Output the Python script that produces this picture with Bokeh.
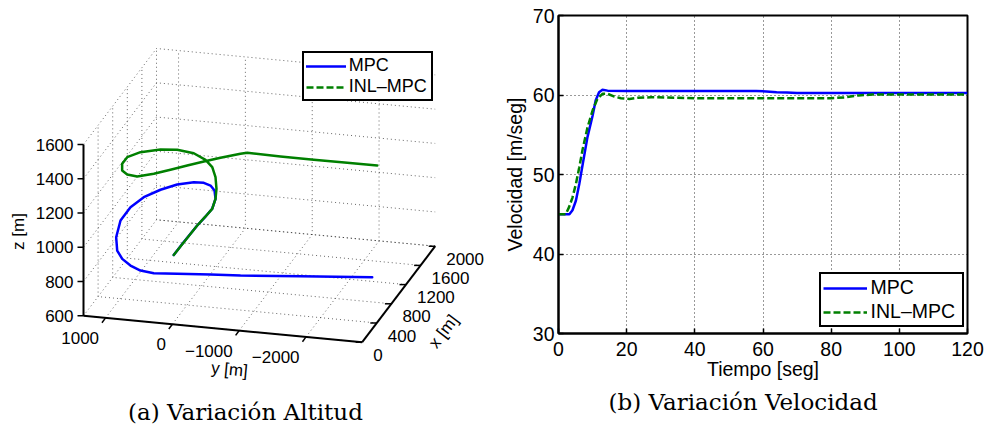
import numpy as np
from bokeh.plotting import figure
from bokeh.models import Range1d, Legend, LegendItem, Title, FixedTicker
from bokeh.layouts import row
from bokeh.embed import file_html
from bokeh.resources import INLINE
from bokeh.core.properties import value

# ---------------- data: (a) 3-D trajectories [m] ----------------
mpc_x = [0, 171, 433, 572, 686, 836, 962, 1034, 1075, 1085, 1043, 960, 851, 716, 538,
         322, 165, 96, 65, 52, 75, 139, 205, 246, 349, 465]
mpc_y = [-20, -68, -135, -183, -221, -189, -105, -6, 117, 272, 498, 702, 893, 1018, 1070,
         1017, 916, 803, 663, 506, 319, 4, -458, -885, -1727, -2736]
mpc_z = [1005, 1030, 1060, 1075, 1090, 1105, 1115, 1120, 1120, 1115, 1105, 1090, 1070, 1045, 1015,
         980, 950, 925, 900, 880, 865, 855, 850, 848, 846, 845]

inl_x = [0, 167, 400, 524, 618, 737, 849, 989, 1094, 1142, 1165, 1119, 1026, 871, 683,
         495, 314, 197, 126, 159, 218, 282, 340, 400, 468, 472, 462, 459, 462, 465]
inl_y = [-20, -80, -153, -210, -258, -243, -196, -105, 1, 128, 316, 539, 738, 953, 1049,
         1022, 923, 784, 595, 365, 148, -68, -285, -502, -763, -862, -1365, -1865, -2363, -2811]
inl_z = [1005, 1035, 1070, 1090, 1110, 1135, 1160, 1185, 1210, 1235, 1260, 1285, 1305, 1325, 1345,
         1360, 1375, 1390, 1405, 1420, 1435, 1450, 1465, 1478, 1492, 1500, 1500, 1500, 1500, 1500]

x_lim = [0, 2000]
y_lim = [-2840, 1330]
z_lim = [600, 1600]
x_ticks = [0, 400, 800, 1200, 1600, 2000]
y_ticks = [1000, 0, -1000, -2000]
z_ticks = [600, 800, 1000, 1200, 1400, 1600]

# ---------------- data: (b) velocity ----------------
t_mpc = [0, 3.2, 4.1, 5.1, 6.1, 7.1, 8.5, 10.0, 10.9, 11.9, 12.9, 14.4, 20, 30, 40, 50, 58,
         61, 64, 67, 70, 80, 90, 100, 110, 120]
v_mpc = [45.0, 45.0, 45.5, 46.7, 48.8, 51.3, 54.7, 57.4, 59.3, 60.35, 60.65, 60.55, 60.5, 60.5,
         60.5, 60.5, 60.5, 60.45, 60.35, 60.3, 60.25, 60.25, 60.25, 60.25, 60.25, 60.25]
t_inl = [0, 2.1, 3.1, 4.1, 5.1, 6.1, 7.1, 8.5, 10.0, 11.4, 12.9, 14.4, 16.4, 18.3, 20.8, 23.3,
         27.2, 34, 40, 60, 80, 84, 88, 92, 100, 110, 120]
v_inl = [45.0, 45.0, 45.9, 47.1, 48.8, 50.9, 53.2, 55.9, 58.05, 59.5, 60.15, 60.15, 59.8, 59.6,
         59.5, 59.65, 59.72, 59.65, 59.6, 59.6, 59.6, 59.7, 59.95, 60.05, 60.05, 60.05, 60.05]
t_ticks = [0, 20, 40, 60, 80, 100, 120]
v_ticks = [30, 40, 50, 60, 70]

series_names = ["MPC", "INL–MPC"]
captions = ["(a) Variación Altitud", "(b) Variación Velocidad"]

BLUE = "#0000ff"
GREEN = "#008000"
SANS = "Liberation Sans"
SERIF = "DejaVu Serif"

# ---------------- view of the 3-D box (screen pixels) ----------------
ORIGIN = (83.0, 315.3)   # where (xmin, ymax, zmin) is drawn
EX = (73.0, -96.0)       # full x range
EY = (278.7, 26.4)       # full y range (ymax -> ymin)
EZ = (0.0, -171.3)       # full z range


def proj(x, y, z):
    x = np.asarray(x, float); y = np.asarray(y, float); z = np.asarray(z, float)
    u = (x - x_lim[0]) / (x_lim[1] - x_lim[0])
    v = (y_lim[1] - y) / (y_lim[1] - y_lim[0])
    w = (z - z_lim[0]) / (z_lim[1] - z_lim[0])
    sx = ORIGIN[0] + u * EX[0] + v * EY[0] + w * EZ[0]
    sy = ORIGIN[1] + u * EX[1] + v * EY[1] + w * EZ[1]
    return sx, sy


def fmt(n):
    return str(n).replace("-", "\u2212")


def no_align(p):
    try:
        p.frame_align = False
    except Exception:
        pass


p1 = figure(width=490, height=424, x_range=Range1d(0, 490), y_range=Range1d(424, 0),
            x_axis_type=None, y_axis_type=None, min_border=0,
            toolbar_location=None, output_backend="svg")
p1.outline_line_color = None
p1.grid.visible = False
no_align(p1)

x0, x1 = x_lim
y0, y1 = y_lim
z0, z1 = z_lim

# grid lines on floor and back walls
gxs, gys = [], []
for z in z_ticks:
    sx, sy = proj([x0, x1, x1], [y1, y1, y0], [z, z, z])
    gxs.append(list(sx)); gys.append(list(sy))
for y in y_ticks:
    sx, sy = proj([x0, x1, x1], [y, y, y], [z0, z0, z1])
    gxs.append(list(sx)); gys.append(list(sy))
for x in x_ticks:
    sx, sy = proj([x, x, x], [y0, y1, y1], [z0, z0, z1])
    gxs.append(list(sx)); gys.append(list(sy))
p1.multi_line(gxs, gys, line_color="#000000", line_alpha=0.6, line_width=1, line_dash="1 3")

# axis lines
axs, ays = [], []
for pts in ([[x0, x0], [y1, y1], [z0, z1]],
            [[x0, x0], [y1, y0], [z0, z0]],
            [[x0, x1], [y0, y0], [z0, z0]]):
    sx, sy = proj(*pts)
    axs.append(list(sx)); ays.append(list(sy))
p1.multi_line(axs, ays, line_color="black", line_width=2, line_join="miter")

# tick marks
zx, zy = proj([x0] * len(z_ticks), [y1] * len(z_ticks), z_ticks)
yx, yy = proj([x0] * len(y_ticks), y_ticks, [z0] * len(y_ticks))
xx, xy = proj(x_ticks, [y0] * len(x_ticks), [z0] * len(x_ticks))
p1.segment(zx, zy, zx - 6, zy, line_color="black", line_width=1.5)
p1.segment(yx, yy, yx - 3.6, yy + 4.8, line_color="black", line_width=1.5)
p1.segment(xx, xy, xx - 6.5, xy, line_color="black", line_width=1.5)

lab_style = dict(text_font=value(SANS), text_font_size="17px", text_color="black",
                 text_baseline="middle")
p1.text(zx - 10, zy, text=[fmt(v) for v in z_ticks], text_align="right", **lab_style)
p1.text(yx - 6.5, yy + 20, text=[fmt(v) for v in y_ticks], text_align="right", **lab_style)
p1.text(xx + 11, xy + 12.5, text=[fmt(v) for v in x_ticks], text_align="left", **lab_style)

# axis titles
p1.text([17.5], [231], text=["z [m]"], angle=np.pi / 2, text_align="center", **lab_style)
p1.text([229], [369], text=["y [m]"], angle=-0.094, text_align="center", **lab_style)
p1.text([443], [331], text=["x [m]"], angle=0.92, text_align="center", **lab_style)

# trajectories
mx, my = proj(mpc_x, mpc_y, mpc_z)
ix, iy = proj(inl_x, inl_y, inl_z)
r_m3 = p1.line(mx, my, line_color=BLUE, line_width=2.5, line_join="round", line_cap="round")
p1.line(ix, iy, line_color=GREEN, line_width=2.5, line_join="round", line_cap="round")
# legend stand-in with the dashed INL-MPC style (a single vertex draws nothing)
r_i3 = p1.line(ix[:1], iy[:1], line_color=GREEN, line_width=2.5, line_dash="7 3")

leg_style = dict(label_text_font=SANS, label_text_color="black",
                 border_line_color="black", border_line_width=2, border_line_alpha=1,
                 background_fill_color="white", background_fill_alpha=1)
leg1 = Legend(items=[LegendItem(label=series_names[0], renderers=[r_m3]),
                     LegendItem(label=series_names[1], renderers=[r_i3])],
              location=(301.7, 323), padding=2, spacing=0, glyph_width=40, glyph_height=20,
              label_height=20, label_width=80, label_standoff=3,
              label_text_font_size="18px", **leg_style)
p1.add_layout(leg1)

p1.text([245], [411.5], text=[captions[0]], text_align="center", text_baseline="alphabetic",
        text_font=value(SERIF), text_font_size="23px", text_color="black")

# ---------------- (b) velocity ----------------
p2 = figure(width=497, height=424, x_range=Range1d(0, 120), y_range=Range1d(30, 70),
            min_border_left=68, min_border_right=20, min_border_top=15, min_border_bottom=91,
            toolbar_location=None, output_backend="svg")
no_align(p2)
r_m = p2.line(t_mpc, v_mpc, line_color=BLUE, line_width=2.5)
r_i = p2.line(t_inl, v_inl, line_color=GREEN, line_width=2.5, line_dash="7 3")

p2.xaxis.ticker = FixedTicker(ticks=t_ticks)
p2.yaxis.ticker = FixedTicker(ticks=v_ticks)
p2.xaxis.axis_label = "Tiempo [seg]"
p2.yaxis.axis_label = "Velocidad [m/seg]"
for ax in (p2.xaxis[0], p2.yaxis[0]):
    ax.axis_line_width = 2
    ax.major_tick_in = 5
    ax.major_tick_out = 0
    ax.minor_tick_in = 0
    ax.minor_tick_out = 0
    ax.major_tick_line_width = 1.5
    ax.major_label_text_font = SANS
    ax.major_label_text_font_size = "19.5px"
    ax.major_label_text_color = "black"
    ax.axis_label_text_font = SANS
    ax.axis_label_text_font_size = "19.5px"
    ax.axis_label_text_font_style = "normal"
    ax.axis_label_text_color = "black"
p2.xaxis.major_label_standoff = 8
p2.yaxis.major_label_standoff = 4
p2.xaxis.axis_label_standoff = -1
p2.yaxis.axis_label_standoff = 4
p2.grid.grid_line_color = "black"
p2.grid.grid_line_alpha = 0.8
p2.grid.grid_line_dash = "1 3"
p2.grid.grid_line_width = 1
p2.outline_line_color = "black"
p2.outline_line_width = 2
p2.outline_line_alpha = 1

leg2 = Legend(items=[LegendItem(label=series_names[0], renderers=[r_m]),
                     LegendItem(label=series_names[1], renderers=[r_i])],
              location=(260.6, 5.7), padding=2, spacing=1, glyph_width=44, glyph_height=22,
              label_height=22, label_width=89, label_standoff=4,
              label_text_font_size="19.5px", **leg_style)
p2.add_layout(leg2)

p2.add_layout(Title(text=captions[1], align="left", offset=50, standoff=9,
                    text_font=SERIF, text_font_size="23px", text_font_style="normal",
                    text_color="black"), "below")

layout = row(p1, p2)
open("out.html", "w").write(file_html(layout, INLINE))
